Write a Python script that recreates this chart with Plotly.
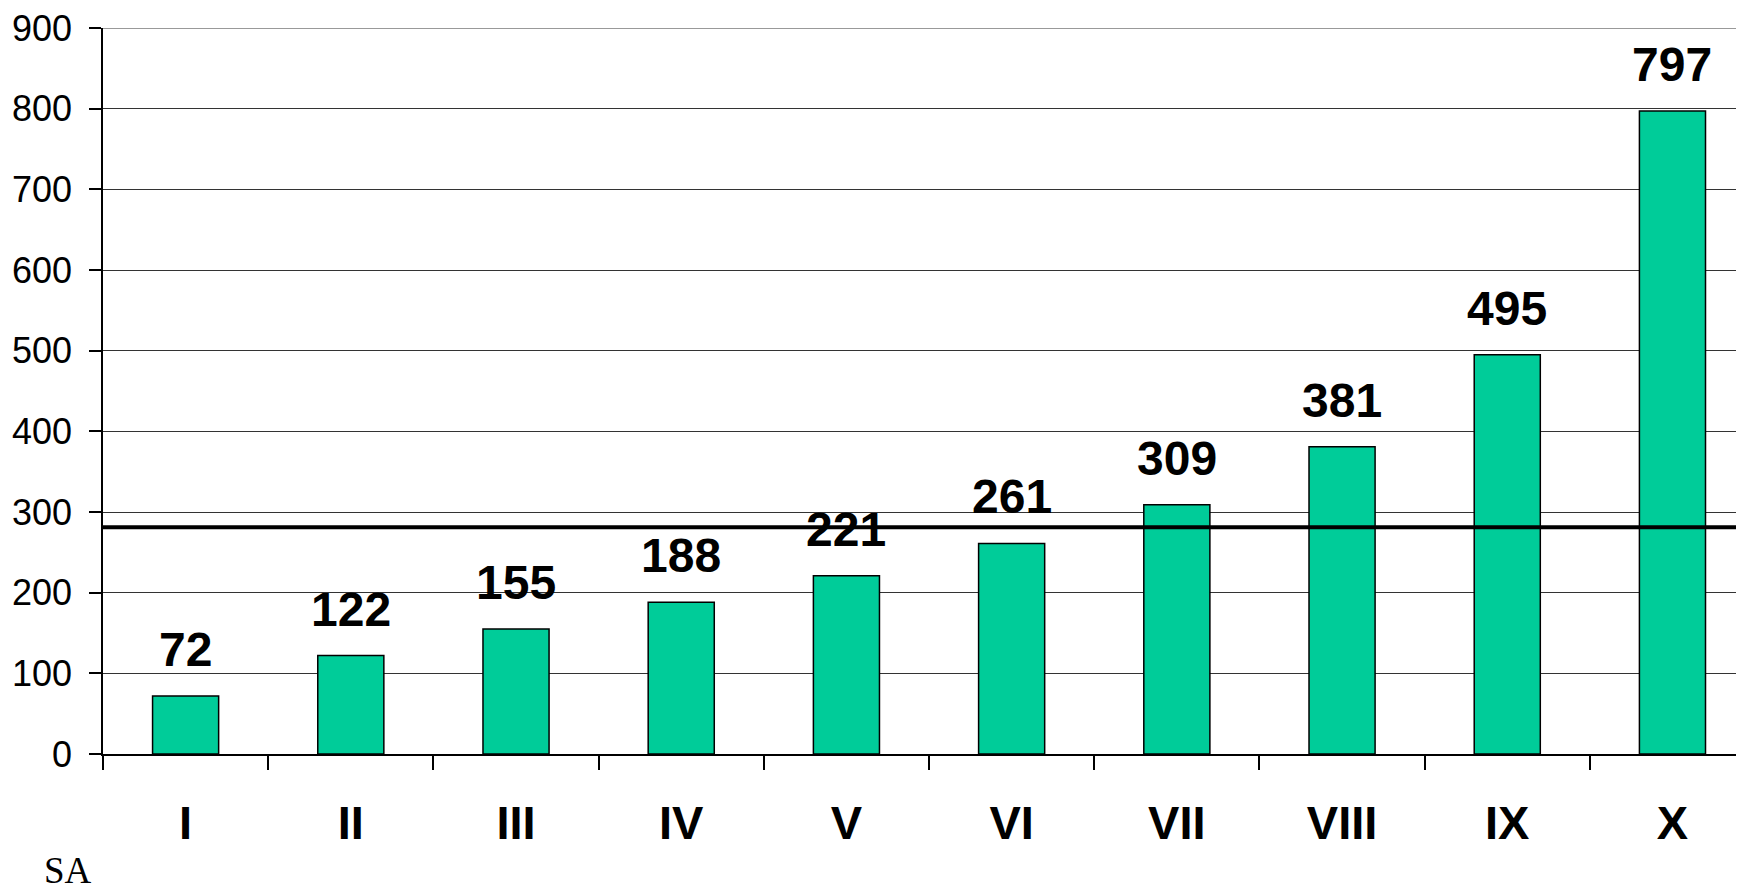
import plotly.graph_objects as go

categories = ["I", "II", "III", "IV", "V", "VI", "VII", "VIII", "IX", "X"]
values = [72, 122, 155, 188, 221, 261, 309, 381, 495, 797]
reference_level = 281
y_ticks = [0, 100, 200, 300, 400, 500, 600, 700, 800, 900]
footer_text = "SA"

# page body has an 8px margin, so the figure is sized to fill the rest
W, H = 1736, 887
ML, MT, MB = 95, 18, 141
PW, PH = W - ML, H - MT - MB

fig = go.Figure()
fig.add_trace(go.Bar(
    x=categories, y=values, width=0.4,
    marker=dict(color="#00CC99", line=dict(color="#000000", width=1.5)),
    showlegend=False, hoverinfo="x+y",
))

for c, v in zip(categories, values):
    fig.add_annotation(x=c, y=v, text=f"<b>{v}</b>", showarrow=False,
                       yanchor="bottom", yshift=18,
                       font=dict(family="Liberation Sans, Arial", size=48, color="#000"))

fig.add_shape(type="line", xref="paper", x0=0, x1=1, yref="y",
              y0=reference_level, y1=reference_level,
              line=dict(color="#000000", width=4))
# top gridline (plotly skips the grid line on the range edge)
fig.add_shape(type="line", xref="paper", x0=0, x1=1, yref="y",
              y0=y_ticks[-1], y1=y_ticks[-1],
              line=dict(color="#777", width=1.5))

fig.add_annotation(xref="paper", yref="paper", x=-ML / PW, y=-MB / PH,
                   xanchor="left", yanchor="bottom", yshift=2, xshift=34,
                   text=footer_text, showarrow=False,
                   font=dict(family="Liberation Serif, Times New Roman", size=37, color="#000"))

fig.update_layout(
    width=W, height=H,
    margin=dict(l=ML, r=0, t=MT, b=MB),
    paper_bgcolor="white", plot_bgcolor="white",
    bargap=0.6,
)
fig.update_xaxes(
    range=[-0.5, 9.433], tickson="boundaries", ticks="outside", ticklen=14,
    tickwidth=1.5, tickcolor="#000",
    showline=True, linecolor="#000", linewidth=1.5,
    tickfont=dict(family="Liberation Sans, Arial", size=47, color="#000"),
    tickvals=categories, ticktext=[f"<b>{c}</b>" for c in categories],
    ticklabelstandoff=27, showgrid=False, fixedrange=True,
)
fig.update_yaxes(
    range=[0, 900], tickvals=y_ticks, ticks="outside", ticklen=12,
    tickwidth=1.5, tickcolor="#000",
    showline=True, linecolor="#000", linewidth=1.5,
    showgrid=True, gridcolor="#333", gridwidth=1.2,
    tickfont=dict(family="Liberation Sans, Arial", size=36, color="#000"),
    ticklabelstandoff=10, ticklabeloverflow="allow",
    zeroline=False, fixedrange=True,
)

fig.write_html("out.html")
